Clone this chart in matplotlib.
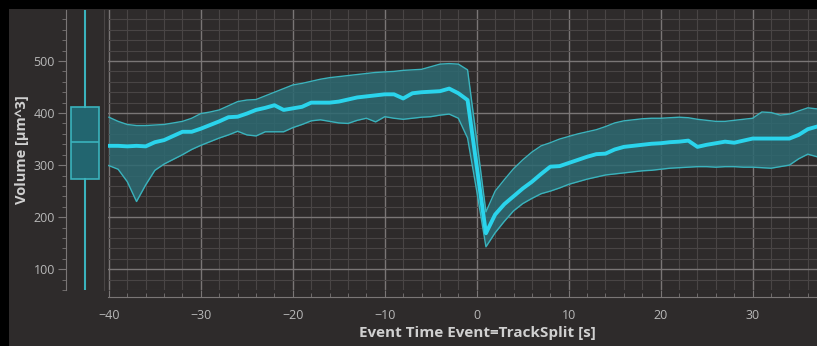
import numpy as np
import matplotlib
matplotlib.use("Agg")
import matplotlib.pyplot as plt
from matplotlib.patches import Rectangle
from matplotlib.ticker import MultipleLocator

# time axis, one sample per second
time_s = list(range(-40, 38))

mean_vol = [337, 337, 336, 337, 336, 344, 348, 356, 364, 364,
            370, 377, 384, 392, 393, 399, 406, 410, 415, 406,
            409, 412, 420, 420, 420, 422, 426, 430, 432, 434,
            436, 436, 428, 438, 440, 441, 442, 447, 438, 425,
            297, 169, 205, 225, 240, 255, 268, 283, 297, 298,
            304, 310, 316, 321, 322, 330, 335, 337, 339, 341,
            342, 344, 345, 347, 335, 339, 342, 345, 343, 347,
            351, 351, 351, 351, 351, 358, 369, 374]

upper_vol = [392, 384, 378, 376, 376, 377, 378, 381, 384, 390,
             399, 402, 406, 414, 422, 425, 426, 433, 440, 447,
             454, 457, 461, 465, 468, 470, 472, 474, 476, 478,
             479, 480, 482, 483, 484, 489, 494, 495, 494, 483,
             348, 210, 250, 272, 293, 310, 325, 337, 343, 350,
             355, 360, 364, 368, 374, 381, 385, 387, 389, 390,
             390, 391, 392, 391, 388, 386, 384, 384, 386, 388,
             390, 402, 401, 396, 398, 404, 410, 408]

lower_vol = [299, 292, 268, 230, 262, 290, 302, 311, 320, 330,
             338, 345, 352, 358, 365, 358, 356, 364, 364, 364,
             372, 378, 385, 387, 384, 381, 380, 386, 390, 383,
             393, 390, 388, 390, 392, 393, 396, 398, 390, 352,
             250, 143, 170, 192, 212, 226, 236, 245, 250, 256,
             263, 268, 273, 277, 281, 283, 285, 287, 289, 290,
             292, 294, 295, 296, 297, 297, 296, 297, 297, 296,
             296, 295, 294, 297, 300, 312, 321, 316]

# box summary on the left
box_q1, box_med, box_q3 = 273, 344, 411
box_lo, box_hi = 55, 605

x_ticks = [-40, -30, -20, -10, 0, 10, 20, 30]
y_ticks = [100, 200, 300, 400, 500]

bg = "#2e2b2b"
grid_major = "#7a7676"
grid_minor = "#494545"
txt = "#b8b8b8"
cyan = "#2ad4ec"
band_edge = "#3ab3bd"
band_fill = "#2d6a72"

plt.rcParams["font.family"] = ["Open Sans", "DejaVu Sans"]

W, H = 817, 346
fig = plt.figure(figsize=(W / 100, H / 100), dpi=100, facecolor="black")
fig.patches.append(Rectangle((9 / W, 0), 1, (H - 9) / H, transform=fig.transFigure,
                             facecolor=bg, edgecolor="none", zorder=-10))

ylim = (60, 598)
bottom = (H - 290) / H
height = 280 / H

# main plot
ax = fig.add_axes([108 / W, bottom, 709 / W, height])
ax.set_facecolor(bg)
ax.fill_between(time_s, lower_vol, upper_vol, color=band_fill, alpha=0.85, lw=0, zorder=2)
ax.plot(time_s, upper_vol, color=band_edge, lw=1.0, zorder=3)
ax.plot(time_s, lower_vol, color=band_edge, lw=1.0, zorder=3)
ax.plot(time_s, mean_vol, color=cyan, lw=2.8, zorder=4, solid_joinstyle="round")
ax.set_xlim(-40.1, 37)
ax.set_ylim(*ylim)
ax.set_xticks(x_ticks)
ax.xaxis.set_minor_locator(MultipleLocator(2))
ax.set_yticks(y_ticks)
ax.yaxis.set_minor_locator(MultipleLocator(20))
ax.grid(True, which="major", color=grid_major, lw=1.0, zorder=0)
ax.grid(True, which="minor", color=grid_minor, lw=0.8, zorder=0)
ax.set_axisbelow(True)
for s in ["top", "right", "left"]:
    ax.spines[s].set_visible(False)
ax.spines["bottom"].set_position(("outward", 5))
ax.spines["bottom"].set_color(grid_major)
ax.tick_params(axis="x", which="major", direction="in", length=5, color=grid_major,
               labelcolor=txt, labelsize=9, pad=9)
ax.tick_params(axis="x", which="minor", direction="in", length=3, color=grid_major)
ax.tick_params(axis="y", which="both", left=False, labelleft=False)
ax.set_xlabel("Event Time Event=TrackSplit [s]", color="#d0d0d0", fontsize=11,
              fontweight="bold")
ax.xaxis.set_label_coords((477 - 108) / 709, -0.13)

# box plot axis on the left
bax = fig.add_axes([66 / W, bottom, 38 / W, height])
bax.set_facecolor(bg)
stats = [dict(med=box_med, q1=box_q1, q3=box_q3, whislo=box_lo, whishi=box_hi, fliers=[])]
bax.bxp(stats, positions=[0], widths=0.74, showcaps=False, showfliers=False,
        patch_artist=True,
        boxprops=dict(facecolor="#22656f", edgecolor=band_edge, lw=1.2),
        medianprops=dict(color=band_edge, lw=1.2),
        whiskerprops=dict(color=band_edge, lw=1.5))
bax.set_xlim(-0.5, 0.5)
bax.set_ylim(*ylim)
bax.set_xticks([])
bax.set_yticks(y_ticks)
bax.yaxis.set_minor_locator(MultipleLocator(20))
for s in ["top", "bottom"]:
    bax.spines[s].set_visible(False)
bax.spines["left"].set_color(grid_major)
bax.spines["right"].set_color(grid_minor)
bax.tick_params(axis="y", which="major", length=6, color=grid_major, labelcolor=txt,
                labelsize=9, pad=2)
bax.tick_params(axis="y", which="minor", length=3, color=grid_major)

fig.text(22 / W, 1 - 150 / H, "Volume [µm^3]", rotation=90, ha="center", va="center",
         color="#d0d0d0", fontsize=10.5, fontweight="bold")

fig.savefig("out.png", dpi=100, facecolor=fig.get_facecolor())
